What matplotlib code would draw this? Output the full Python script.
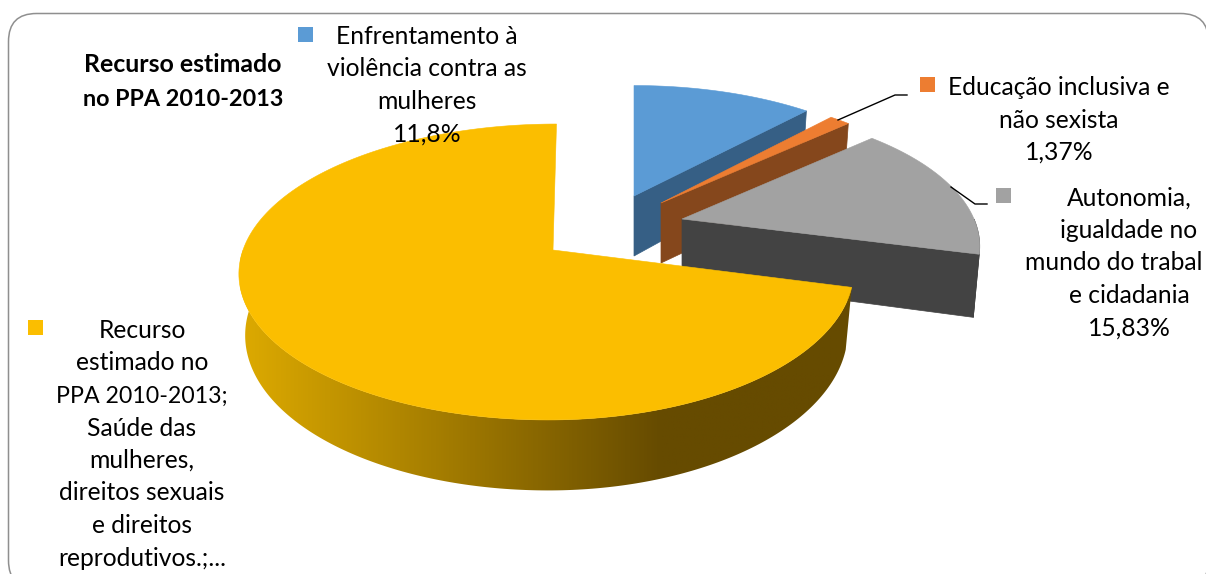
import numpy as np
import matplotlib
matplotlib.use("Agg")
import matplotlib.pyplot as plt
from matplotlib.colors import LinearSegmentedColormap
from matplotlib.patches import FancyBboxPatch, Polygon

# Shares of the estimated budget, in percent, clockwise from twelve o'clock
slice_shares = [11.8, 1.37, 15.83, 71.0]

title_lines = ["Recurso estimado", "no PPA 2010-2013"]
label_blue = ["Enfrentamento à", "violência contra as", "mulheres", "11,8%"]
label_orange = ["Educação inclusiva e", "não sexista", "1,37%"]
label_grey = ["Autonomia,", "igualdade no", "mundo do trabal", "e cidadania", "15,83%"]
label_yellow = ["Recurso", "estimado no", "PPA 2010-2013;", "Saúde das", "mulheres,",
                "direitos sexuais", "e direitos", "reprodutivos.;..."]

top_colors = ["#5B9BD5", "#ED7D31", "#A2A2A2", "#FBBE00"]
side_colors = ["#365F85", "#85471C", "#434343", "#664B00"]

# Pie geometry: slice apex, radii for each side, lean of the far edge, perspective strength
geometry = [
    dict(ax=634, ay=196, fl=292, fr=292, fy=132, k=0.195, lean=0),
    dict(ax=661, ay=203, fl=288, fr=288, fy=133, k=0.195, lean=0),
    dict(ax=682, ay=219, fl=292, fr=292, fy=135, k=0.195, lean=0),
    dict(ax=553, ay=250, fl=310, fr=298, fy=144.7, k=0.1486, lean=4),
]
DEPTH = 60
BASE_SHRINK = 0.98
TEXT_SIZE = 17.75

plt.rcParams["font.family"] = ["Lato", "DejaVu Sans"]
fig = plt.figure(figsize=(12.06, 5.74), dpi=100)
ax = fig.add_axes([0, 0, 1, 1])
ax.set_xlim(0, 1206)
ax.set_ylim(574, 0)
ax.axis("off")

# Rounded chart frame; its right and bottom edges run off the canvas
ax.add_patch(FancyBboxPatch((8.5 + 28, 13.5 + 28), 1200 - 28 * 2, 575 - 28 * 2,
                            boxstyle="round,pad=28,rounding_size=28",
                            fc="white", ec="#8F8F8F", lw=1.1, zorder=0))


def project(theta, radius, g, base=False):
    """Map a polar position on the pie disc to the canvas, top or bottom face."""
    u = radius * np.sin(theta)
    v = radius * np.cos(theta)
    w = 1 + g["k"] * v
    x = (np.where(u < 0, g["fl"], g["fr"]) * u + g["lean"] * v) / w
    y = -g["fy"] * v / w
    if base:
        return g["ax"] + BASE_SHRINK * x, g["ay"] + y + DEPTH / w
    return g["ax"] + x, g["ay"] + y


def arc(t0, t1, g, base=False, n=200):
    return np.column_stack(project(np.linspace(t0, t1, n), 1.0, g, base))


edges = np.radians(np.concatenate([[0], np.cumsum(slice_shares)]) * 3.6)

for i, g in enumerate(geometry):
    t0, t1 = edges[i], edges[i + 1]
    apex_top = np.array(project(0.0, 0.0, g), dtype=float)
    apex_bot = np.array(project(0.0, 0.0, g, base=True), dtype=float)
    top_poly = np.vstack([apex_top, arc(t0, t1, g)])

    if i < 3:
        # Cut face along the clockwise edge of the exploded slice
        corner_top = np.array(project(t1, 1.0, g), dtype=float)
        corner_bot = np.array(project(t1, 1.0, g, base=True), dtype=float)
        ax.add_patch(Polygon([apex_top, corner_top, corner_bot, apex_bot],
                             fc=side_colors[i], ec=side_colors[i], lw=0.5, zorder=2 + i))
        if t1 > np.pi / 2:
            rim = np.vstack([arc(np.pi / 2, t1, g), arc(np.pi / 2, t1, g, base=True)[::-1]])
            ax.add_patch(Polygon(rim, fc=side_colors[i], ec=side_colors[i], lw=0.5, zorder=2 + i))
    else:
        # Outer wall of the large slice, shaded from left to right
        wall = np.vstack([arc(t0, np.radians(272), g),
                          arc(t0, np.radians(272), g, base=True)[::-1]])
        clip = Polygon(wall, fc="none", ec="none", transform=ax.transData)
        ax.add_patch(clip)
        ramp = LinearSegmentedColormap.from_list(
            "wall", [(0.0, "#DDAA00"), (0.68, "#664B00"), (1.0, "#664B00")])
        shade = ax.imshow(np.linspace(0, 1, 512)[None, :], cmap=ramp, aspect="auto",
                          extent=(240, 860, 500, 250), zorder=6)
        shade.set_clip_path(clip)

    ax.add_patch(Polygon(top_poly, fc=top_colors[i], ec=top_colors[i], lw=0.4,
                         zorder=3 + i + (i == 3)))

ax.set_xlim(0, 1206)
ax.set_ylim(574, 0)


def stacked(lines, cx, y0, step=32.5, size=TEXT_SIZE, weight="normal", narrow=()):
    # Lines heavy in digits get a slightly smaller size to keep their width in check
    for n, line in enumerate(lines):
        ax.text(cx, y0 + n * step, line, ha="center", va="baseline", color="black",
                fontsize=size * (0.94 if n in narrow else 1.0), fontweight=weight, zorder=10)


stacked(title_lines, 183, 72, step=34, size=17.9, weight="bold", narrow=(1,))
stacked(label_blue, 427, 44)
stacked(label_orange, 1059, 95)
stacked(label_yellow, 142, 338, narrow=(2,))
for n, line in enumerate(label_grey):
    if n == 2:
        ax.text(1025, 205.5 + n * 32.5, line, ha="left", va="baseline",
                fontsize=TEXT_SIZE, zorder=10)
    else:
        ax.text(1129, 205.5 + n * 32.5, line, ha="center", va="baseline",
                fontsize=TEXT_SIZE, zorder=10)

# Legend keys beside each label
for (kx, ky), col in zip([(298, 27), (920, 77), (996, 188), (28, 320)], top_colors):
    ax.add_patch(Polygon([(kx, ky), (kx + 15, ky), (kx + 15, ky + 15), (kx, ky + 15)],
                         fc=col, ec="none", zorder=9))

# Leader lines from the two small slices to their labels
ax.plot([838, 895, 907], [120, 95, 95], color="black", lw=1, zorder=9)
ax.plot([951, 975, 987], [187, 204, 204], color="black", lw=1, zorder=9)

fig.savefig("out.png", dpi=100)
